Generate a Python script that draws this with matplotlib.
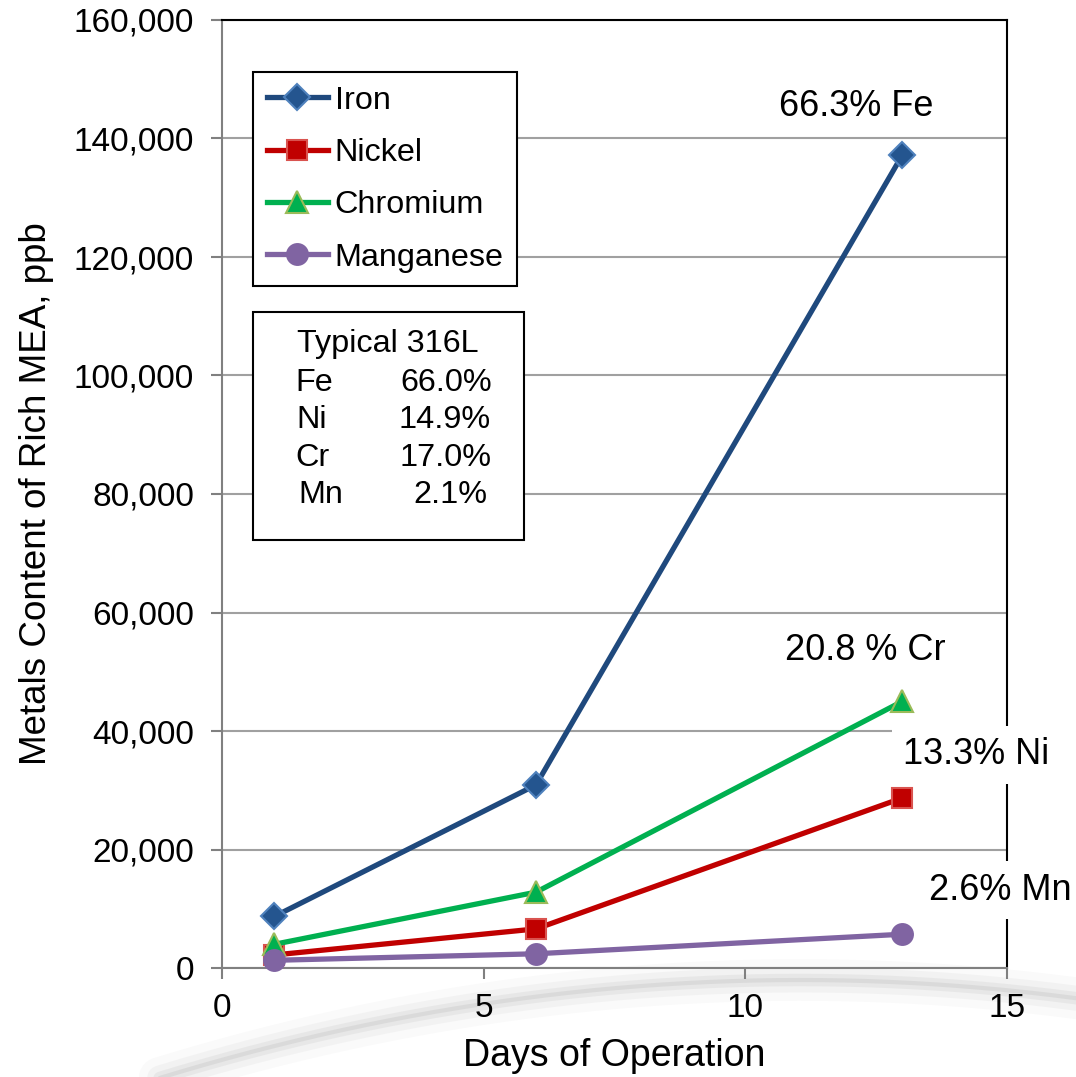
import matplotlib
matplotlib.use("Agg")
import matplotlib.pyplot as plt
import numpy as np
from matplotlib.lines import Line2D
from matplotlib.patches import Rectangle
from matplotlib.ticker import FuncFormatter

plt.rcParams['font.family'] = ['Liberation Sans', 'DejaVu Sans']

# ---- data ----
days = [1, 6, 13]
iron = [8700, 30900, 137200]
nickel = [2200, 6600, 28700]
chromium = [4000, 12800, 45000]
manganese = [1300, 2400, 5700]

series_names = ["Iron", "Nickel", "Chromium", "Manganese"]
x_ticks = [0, 5, 10, 15]
y_ticks = [0, 20000, 40000, 60000, 80000, 100000, 120000, 140000, 160000]

annot_texts = ["66.3% Fe", "20.8 % Cr", "13.3% Ni", "2.6% Mn"]
box_title = "Typical 316L"
box_elems = ["Fe", "Ni", "Cr", "Mn"]
box_vals = ["66.0%", "14.9%", "17.0%", "2.1%"]

W, H = 1076, 1077
fig = plt.figure(figsize=(W / 100, H / 100), dpi=100)

def fx(px):
    return px / W

def fy(py):
    return 1 - py / H

# decorative background swoosh (slide artifact)
xs = np.linspace(100, 1076, 300)
ys = 972 + 2.39e-4 * (xs - 800) ** 2
for lw, a in [(30, 0.04), (18, 0.06), (9, 0.09), (3, 0.12)]:
    fig.add_artist(Line2D(fx(xs), fy(ys + 8), color='#808080', lw=lw, alpha=a,
                          solid_capstyle='round', zorder=0))

ax = fig.add_axes([fx(222), fy(968), fx(1007) - fx(222), fy(20) - fy(968)])
ax.set_facecolor('none')

styles = [
    dict(color='#1F497D', marker='D', mfc='#24558F', mec='#4F81BD', ms=13),
    dict(color='#C00000', marker='s', mfc='#C00000', mec='#D9534F', ms=14),
    dict(color='#00B050', marker='^', mfc='#00B050', mec='#9BBB59', ms=16),
    dict(color='#8064A2', marker='o', mfc='#8064A2', mec='#8064A2', ms=15),
]
handles = []
for vals, name, st in zip([iron, nickel, chromium, manganese], series_names, styles):
    h, = ax.plot(days, vals, lw=3.8, label=name, mew=1.5, zorder=4, clip_on=False, **st)
    handles.append(h)

ax.set_xlim(0, 15)
ax.set_ylim(0, 160000)
ax.set_xticks(x_ticks)
ax.set_yticks(y_ticks)
ax.yaxis.set_major_formatter(FuncFormatter(lambda v, p: f"{int(v):,}"))
ax.tick_params(axis='both', labelsize=24, color='#808080', length=8, width=1.5,
               direction='out')
ax.tick_params(axis='y', pad=12)
ax.tick_params(axis='x', pad=10)
ax.grid(axis='y', color='#A0A0A0', lw=1.5)
ax.set_axisbelow(True)
for s in ['left', 'bottom']:
    ax.spines[s].set_color('#808080')
    ax.spines[s].set_linewidth(1.5)
for s in ['top', 'right']:
    ax.spines[s].set_color('black')
    ax.spines[s].set_linewidth(1.5)

ax.set_xlabel("Days of Operation", fontsize=27, labelpad=10)
ax.set_ylabel("Metals Content of Rich MEA, ppb", fontsize=26.5, labelpad=14)

leg = ax.legend(handles=handles, loc='upper left',
                bbox_to_anchor=(fx(253), fy(72)), bbox_transform=fig.transFigure,
                fontsize=23.3, frameon=True, fancybox=False, framealpha=1,
                edgecolor='black', handlelength=1.9, handletextpad=0.2,
                labelspacing=0.69, borderpad=0.42, borderaxespad=0)
leg.get_frame().set_linewidth(1.5)

# composition box
fig.add_artist(Rectangle((fx(253), fy(540)), fx(524) - fx(253), fy(312) - fy(540),
                         facecolor='white', edgecolor='black', lw=1.5, zorder=5))
fig.text(fx(388), fy(344), box_title, fontsize=23.3, ha='center', va='center', zorder=6)
row_y = [383, 420, 458, 495]
elem_x = [295, 296, 295, 298]
val_x = [492, 491, 492, 487]
for e, v, yy, ex, vx in zip(box_elems, box_vals, row_y, elem_x, val_x):
    fig.text(fx(ex), fy(yy), e, fontsize=23.3, ha='left', va='center', zorder=6)
    fig.text(fx(vx), fy(yy), v, fontsize=23.3, ha='right', va='center', zorder=6)

# annotations
ann_pos = [(856, 106), (865, 651), (976, 755), (1000, 890)]
for t, (px, py) in zip(annot_texts, ann_pos):
    fig.text(fx(px), fy(py), t, fontsize=26, ha='center', va='center', zorder=10,
             bbox=dict(facecolor='white', edgecolor='none', pad=8))

fig.savefig("out.png", dpi=100)
